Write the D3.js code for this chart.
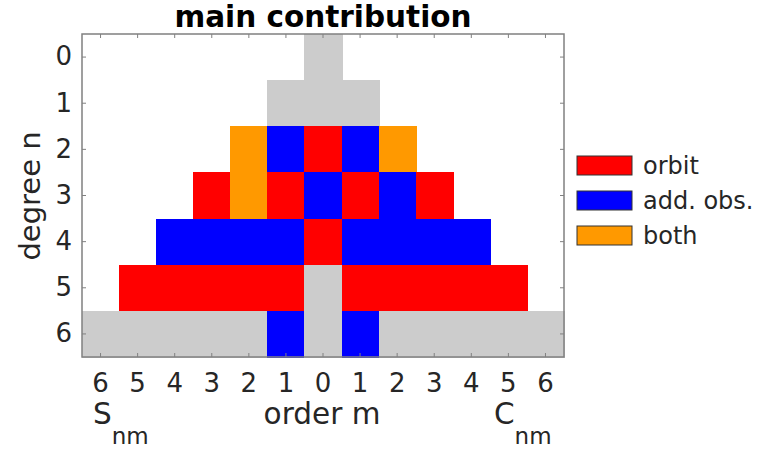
<!DOCTYPE html>
<html><head><meta charset="utf-8">
<script src="https://cdn.jsdelivr.net/npm/d3@7"></script>
<style>body{margin:0;background:#fff}svg{display:block}text{font-family:"DejaVu Sans",sans-serif}</style>
</head><body><svg id="c" width="757" height="452"></svg>
<script>
const orders = [-6,-5,-4,-3,-2,-1,0,1,2,3,4,5,6];
const orderTickLabels = ["6","5","4","3","2","1","0","1","2","3","4","5","6"];
const degrees = [0,1,2,3,4,5,6];
const degreeTickLabels = ["0","1","2","3","4","5","6"];
// 0 = none, 1 = orbit, 2 = add. obs., 3 = both, 4 = grey
const n0 = [0,0,0,0,0,0,4,0,0,0,0,0,0];
const n1 = [0,0,0,0,0,4,4,4,0,0,0,0,0];
const n2 = [0,0,0,0,3,2,1,2,3,0,0,0,0];
const n3 = [0,0,0,1,3,1,2,1,2,1,0,0,0];
const n4 = [0,0,2,2,2,2,1,2,2,2,2,0,0];
const n5 = [0,1,1,1,1,1,4,1,1,1,1,1,0];
const n6 = [4,4,4,4,4,2,4,2,4,4,4,4,4];
const grid = [n0,n1,n2,n3,n4,n5,n6];
const legendLabels = ["orbit","add. obs.","both"];
const legendCodes = [1,2,3];
const colors = {0:"#ffffff",1:"#ff0000",2:"#0000ff",3:"#ff9900",4:"#cccccc"};

const svg = d3.select("#c");
const L=82,R=564,T=34,B=357;
const x = d3.scaleBand().domain(orders).range([L,R]).padding(0);
const y = d3.scaleBand().domain(degrees).range([T,B]).padding(0);

const cells = [];
grid.forEach((row,i)=>row.forEach((c,j)=>{ if(c>0) cells.push({n:degrees[i],m:orders[j],c}); }));
svg.append("g").attr("shape-rendering","crispEdges").selectAll("rect").data(cells).join("rect")
  .attr("x",d=>Math.round(x(d.m))).attr("y",d=>Math.round(y(d.n)))
  .attr("width",d=>Math.round(x(d.m)+x.bandwidth())-Math.round(x(d.m))+1)
  .attr("height",d=>Math.round(y(d.n)+y.bandwidth())-Math.round(y(d.n))+1)
  .attr("fill",d=>colors[d.c]);

const axCol="#808080", txtCol="#262626";
function style(g){ g.select(".domain").remove(); g.selectAll(".tick line").attr("stroke",axCol); g.selectAll("text").attr("fill",txtCol).style("font-family","DejaVu Sans").style("font-size","26px"); }
const fx = (d,i)=>orderTickLabels[orders.indexOf(d)];
svg.append("g").attr("transform",`translate(0,${B})`).call(d3.axisBottom(x).tickSize(-4).tickPadding(17).tickFormat(fx)).call(style);
svg.append("g").attr("transform",`translate(0,${T})`).call(d3.axisTop(x).tickSize(-4).tickFormat("")).call(style);
svg.append("g").attr("transform",`translate(${L},0)`).call(d3.axisLeft(y).tickSize(-4).tickPadding(10).tickFormat(d=>degreeTickLabels[d])).call(style);
svg.append("g").attr("transform",`translate(${R},0)`).call(d3.axisRight(y).tickSize(-4).tickFormat("")).call(style);
svg.append("rect").attr("x",L).attr("y",T).attr("width",R-L).attr("height",B-T).attr("fill","none").attr("stroke",axCol).attr("stroke-width",1.5);

svg.append("text").attr("x",323).attr("y",27).attr("text-anchor","middle").style("font-size","29.5px").style("font-weight","bold").attr("fill","#000").text("main contribution");
svg.append("text").attr("transform","translate(40,196) rotate(-90)").attr("text-anchor","middle").style("font-size","29px").attr("fill",txtCol).text("degree n");
svg.append("text").attr("x",322).attr("y",424).attr("text-anchor","middle").style("font-size","29.5px").attr("fill",txtCol).text("order m");
const s = svg.append("text").attr("x",93).attr("y",424).style("font-size","29.5px").attr("fill",txtCol);
s.append("tspan").text("S"); s.append("tspan").attr("dy",20).style("font-size","23px").text("nm");
const c = svg.append("text").attr("x",494).attr("y",424).style("font-size","29.5px").attr("fill",txtCol);
c.append("tspan").text("C"); c.append("tspan").attr("dy",20).style("font-size","23px").text("nm");

const lg = svg.append("g").selectAll("g").data(legendLabels).join("g")
  .attr("transform",(d,i)=>`translate(577,${156+i*35})`);
lg.append("rect").attr("width",55).attr("height",19).attr("fill",(d,i)=>colors[legendCodes[i]]).attr("stroke","#333").attr("stroke-width",1);
lg.append("text").attr("x",66).attr("y",9.5).attr("dy","0.35em").style("font-size","24px").attr("fill",txtCol).text(d=>d);
</script></body></html>
